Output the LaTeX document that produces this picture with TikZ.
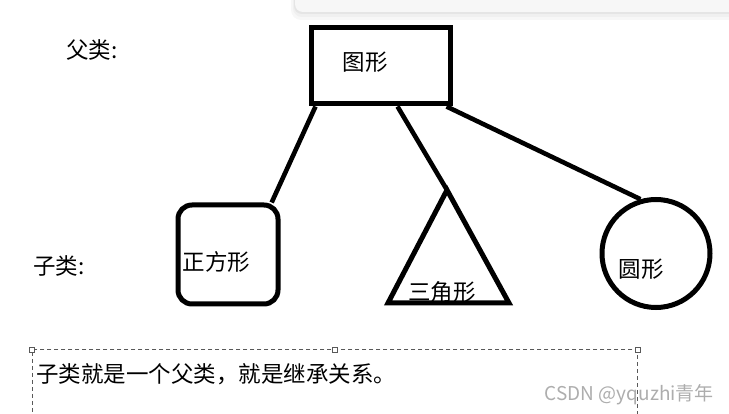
\documentclass[tikz,border=0pt]{standalone}
\usepackage{fontspec}
\setmainfont{Noto Sans CJK SC}
\usetikzlibrary{positioning}

\begin{document}
\begin{tikzpicture}[
      x=1pt,y=-1pt,
      figbox/.style={draw=black,line width=5pt,inner sep=0pt},
      txt/.style={font=\fontsize{22.5}{26}\selectfont,inner sep=0pt},
      link/.style={black,line width=4.6pt},
      notebox/.style={draw=black!65,dash pattern=on 4pt off 3pt,line width=0.8pt,inner sep=0pt},
      handle/.style={draw=black!65,fill=white,line width=0.8pt,minimum size=5pt,inner sep=0pt},
      wmark/.style={font=\fontsize{19}{22}\selectfont,text=black!32,inner sep=0pt}
    ]
      \useasboundingbox (0,0) rectangle (729,414);

      \fill[black!3,rounded corners=10pt] (291,-12) rectangle (740,20);
      \fill[black!6,rounded corners=9pt] (293,-12) rectangle (740,17);
      \fill[black!10,rounded corners=8pt] (294,-12) rectangle (740,14);
      \fill[black!3,rounded corners=8pt] (295,-12) rectangle (740,12);

      \node[txt,anchor=west] (parent) at (66,50) {父类:};
      \node[txt,anchor=west] (child) at (33,266) {子类:};

      \node[figbox,minimum width=139pt,minimum height=76.5pt] (fig) at (380.5,65.75) {};
      \node[txt] (figtext) at (365,62) {图形};

      \node[figbox,rounded corners=14pt,minimum width=100pt,minimum height=99pt] (sq) at (228,254.5) {};
      \node[txt] (sqtext) at (216.5,262) {正方形};

      \coordinate (tri-a) at (447,190);
      \coordinate (tri-l) at (388,303);
      \coordinate (tri-r) at (509,303);
      \draw[link,line width=5pt] (tri-a) -- (tri-l) -- (tri-r) -- cycle;
      \node[txt] (tritext) at (442,292) {三角形};

      \node[figbox,circle,minimum size=108pt] (circ) at (656,253.5) {};
      \node[txt] (circtext) at (641,269) {圆形};

      \draw[link] ([xshift=7pt]fig.south west) -- (sq.50);
      \draw[link] ([xshift=89pt]fig.south west) -- (tri-a);
      \draw[link] ([xshift=-6pt]fig.south east) -- (circ.106);

      \node[notebox,anchor=north west,minimum width=605pt,minimum height=90pt] (note) at (32,349.5) {};
      \node[handle] (h-l) at (note.north west) {};
      \node[handle] (h-m) at (note.north) {};
      \node[handle] (h-r) at (note.north east) {};
      \node[txt,anchor=west] (notetext) at (36,374) {子类就是一个父类，就是继承关系。};

      \node[wmark,anchor=east] (wm) at (714,395) {CSDN @yquzhi青年};
    \end{tikzpicture}
\end{document}
